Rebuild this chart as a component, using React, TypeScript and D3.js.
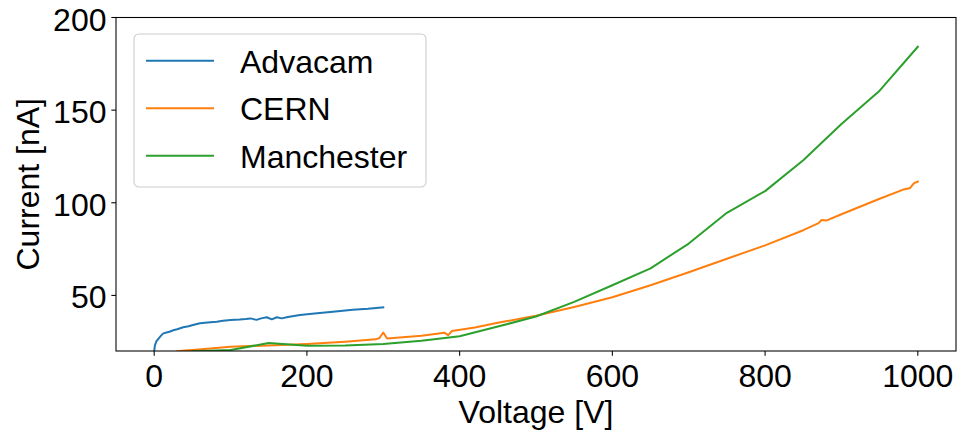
import React from "react";
import * as d3 from "d3";

const advacamV = [0, 1, 3, 6, 9, 12, 16, 20, 25, 30, 38, 45, 52, 60, 70, 82, 90, 100, 112, 120, 126, 134, 140, 147.5, 154, 160.6, 167, 175, 191, 210, 234, 260, 280, 300];
const advacamI = [20, 23, 25.3, 26.8, 28.3, 29.5, 30, 30.4, 31.2, 31.7, 32.8, 33.4, 34.2, 35, 35.4, 35.8, 36.3, 36.7, 37, 37.3, 37.6, 36.8, 37.6, 38.2, 37.1, 38.2, 37.6, 38.4, 39.4, 40.2, 41.2, 42.2, 42.8, 43.6];

const cernV = [30, 40, 50, 100, 150, 200, 250, 290, 295, 300, 305, 350, 380, 385, 390, 420, 450, 500, 550, 600, 650, 700, 750, 800, 850, 870, 874, 880, 900, 950, 980, 990, 995, 1000];
const cernI = [19.9, 20.3, 20.6, 22.3, 23, 23.8, 25, 26.3, 27, 30, 26.7, 28.2, 29.9, 28.6, 30.8, 32.7, 35.2, 39, 43.8, 49, 55.5, 62.5, 69.8, 77, 85.2, 89, 90.7, 90.4, 93.8, 102.2, 107, 108, 110.6, 111.4];

const manV = [50, 100, 150, 200, 250, 300, 350, 400, 450, 500, 550, 600, 650, 700, 750, 800, 850, 900, 950, 1000];
const manI = [19.8, 20.5, 24.3, 22.8, 23, 23.8, 25.5, 28, 33.2, 38.6, 46.5, 55.5, 64.6, 78, 94.6, 106.3, 123, 142.5, 160.5, 184.2];

const seriesNames = ["Advacam", "CERN", "Manchester"];
const seriesColors = ["#1f77b4", "#ff7f0e", "#2ca02c"];
const xTicks = [0, 200, 400, 600, 800, 1000];
const yTicks = [50, 100, 150, 200];

const W = 957, H = 434;
const L = 116, R = 956, T = 17.5, B = 351;
const FONT = "'Liberation Sans', Arial, sans-serif";

export default function App() {
  const x = d3.scaleLinear().domain([-50, 1050]).range([L, R]);
  const y = d3.scaleLinear().domain([20, 200]).range([B, T]);
  const line = d3.line<[number, number]>().x(d => x(d[0])).y(d => y(d[1]));
  const series = [
    advacamV.map((v, i) => [v, advacamI[i]] as [number, number]),
    cernV.map((v, i) => [v, cernI[i]] as [number, number]),
    manV.map((v, i) => [v, manI[i]] as [number, number]),
  ];
  const legendY = [60.7, 108.3, 155.7];
  return (
    <svg width={W} height={H} style={{ position: "absolute", left: 0, top: 0 }} fontFamily={FONT}>
      <rect x={0} y={0} width={W} height={H} fill="#fff" />
      <defs>
        <clipPath id="plot">
          <rect x={L} y={T} width={R - L} height={B - T} />
        </clipPath>
      </defs>
      <g clipPath="url(#plot)">
        {series.map((s, i) => (
          <path key={i} d={line(s) || ""} fill="none" stroke={seriesColors[i]} strokeWidth={2} strokeLinejoin="round" strokeLinecap="square" />
        ))}
      </g>
      <rect x={L} y={T} width={R - L} height={B - T} fill="none" stroke="#000" strokeWidth={1.07} />
      {xTicks.map(t => (
        <g key={t}>
          <line x1={x(t)} x2={x(t)} y1={B} y2={B + 4.67} stroke="#000" strokeWidth={1.07} />
          <text x={x(t)} y={387} textAnchor="middle" fontSize={32} fill="#000">{t}</text>
        </g>
      ))}
      {yTicks.map(t => (
        <g key={t}>
          <line x1={L - 4.67} x2={L} y1={y(t)} y2={y(t)} stroke="#000" strokeWidth={1.07} />
          <text x={106.5} y={y(t) + 13} textAnchor="end" fontSize={32} fill="#000">{t}</text>
        </g>
      ))}
      <text x={(L + R) / 2} y={423} textAnchor="middle" fontSize={32} fill="#000">Voltage [V]</text>
      <text transform={`translate(39,${(T + B) / 2}) rotate(-90)`} textAnchor="middle" fontSize={32} fill="#000">Current [nA]</text>
      <rect x={134} y={34} width={292} height={153} rx={5} fill="#fff" fillOpacity={0.8} stroke="#cccccc" strokeWidth={1.07} />
      {seriesNames.map((n, i) => (
        <g key={n}>
          <line x1={146} x2={214} y1={legendY[i]} y2={legendY[i]} stroke={seriesColors[i]} strokeWidth={2} />
          <text x={240} y={legendY[i] + 11.8} fontSize={32} fill="#000">{n}</text>
        </g>
      ))}
    </svg>
  );
}
